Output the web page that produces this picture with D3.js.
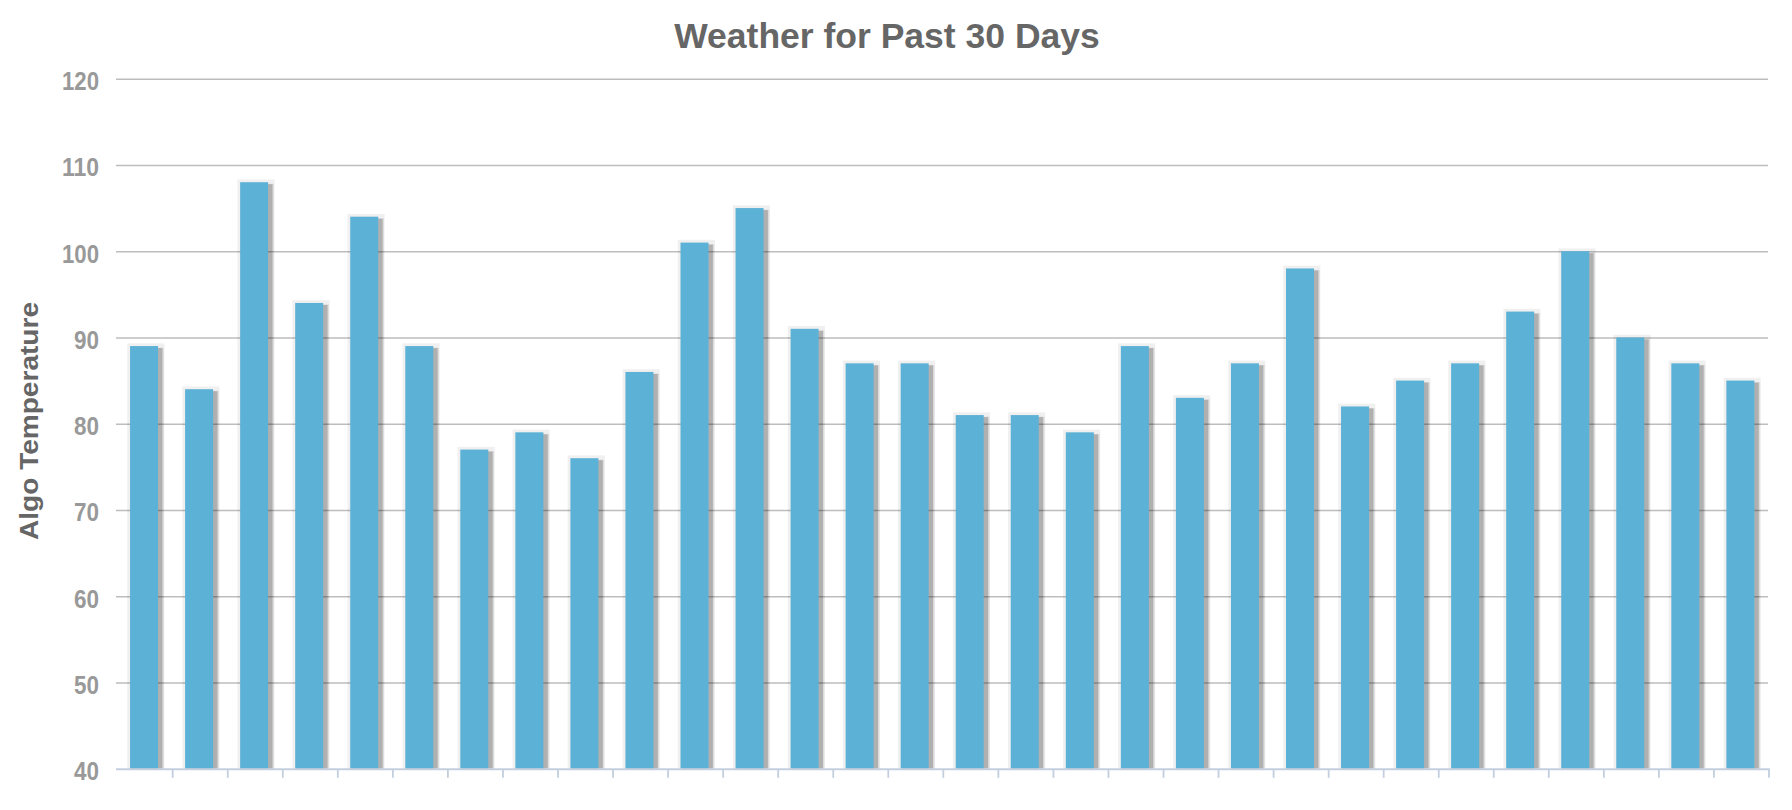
<!DOCTYPE html>
<html>
<head>
<meta charset="utf-8">
<script src="https://cdn.jsdelivr.net/npm/d3@7/dist/d3.min.js"></script>
<style>
  html, body { margin: 0; padding: 0; background: #fff; }
  svg { display: block; }
  text { font-family: "Liberation Sans", Arial, Helvetica, sans-serif; font-weight: bold; }
</style>
</head>
<body>
<svg id="chart" width="1792" height="810"></svg>
<script>
// ---- data ----
const days = d3.range(1, 31).map(String);
const temperatures = [89, 84, 108, 94, 104, 89, 77, 79, 76, 86,
                      101, 105, 91, 87, 87, 81, 81, 79, 89, 83,
                      87, 98, 82, 85, 87, 93, 100, 90, 87, 85];
const yTicks = [40, 50, 60, 70, 80, 90, 100, 110, 120];
const chartTitle = "Weather for Past 30 Days";
const yTitle = "Algo Temperature";

// ---- layout ----
const svg = d3.select("#chart");
const plot = { left: 117.65, right: 1769, top: 78.7, bottom: 768.7 };

const x = d3.scaleBand().domain(days).range([plot.left, plot.right]).padding(0);
const y = d3.scaleLinear().domain([40, 120]).range([plot.bottom, plot.top]);

const step = x.step();
const barW = 28;
const barOffset = 12.4;

// title
svg.append("text")
  .attr("x", 887).attr("y", 47.5)
  .attr("text-anchor", "middle")
  .attr("fill", "#666666")
  .style("font-size", "35.5px")
  .text(chartTitle);

// y axis title
svg.append("text")
  .attr("transform", "translate(38,421) rotate(-90)")
  .attr("text-anchor", "middle")
  .attr("fill", "#666666")
  .style("font-size", "26px")
  .attr("textLength", 238)
  .attr("lengthAdjust", "spacingAndGlyphs")
  .text(yTitle);

// gridlines
const yAxis = d3.axisLeft(y).tickValues(yTicks.filter(v => v > 40))
  .tickSize(-(1768 - 116)).tickFormat("");
const gGrid = svg.append("g").attr("transform", "translate(116,0)").call(yAxis);
gGrid.select(".domain").remove();
gGrid.selectAll(".tick line").attr("stroke", "#bdbdbd").attr("stroke-width", 1.5);

// tick labels
const gLab = svg.append("g").attr("transform", "translate(99,0)")
  .call(d3.axisLeft(y).tickValues(yTicks).tickSize(0).tickPadding(0));
gLab.select(".domain").remove();
gLab.selectAll(".tick text")
  .attr("fill", "#999999")
  .attr("dy", null).attr("y", 11)
  .style("font-size", "25.5px")
  .style("font-family", "'Liberation Sans', Arial, sans-serif")
  .style("font-weight", "bold")
  .attr("textLength", 37)
  .attr("lengthAdjust", "spacingAndGlyphs")
  .each(function(d) { if (String(d).length === 2) d3.select(this).attr("textLength", 25); });

// bars with shadows
const bars = svg.append("g");
const gBar = bars.selectAll("g.bar").data(temperatures).join("g").attr("class", "bar");
const bx = (d, i) => x(days[i]) + barOffset;
// outer glow
gBar.append("rect")
  .attr("x", (d, i) => bx(d, i) - 2.8)
  .attr("y", d => y(d) - 2.8)
  .attr("width", barW + 9.2)
  .attr("height", d => plot.bottom - y(d) + 2.8)
  .attr("fill", "rgba(0,0,0,0.06)");
// mid shadow
gBar.append("rect")
  .attr("x", (d, i) => bx(d, i) + 1)
  .attr("y", d => y(d) + 1.5)
  .attr("width", barW + 4.8)
  .attr("height", d => plot.bottom - y(d) - 1.5)
  .attr("fill", "rgba(0,0,0,0.08)");
// dark shadow
gBar.append("rect")
  .attr("x", (d, i) => bx(d, i) + 1)
  .attr("y", d => y(d) + 2)
  .attr("width", barW + 3.4)
  .attr("height", d => plot.bottom - y(d) - 2)
  .attr("fill", "rgba(0,0,0,0.2)");
// bar
gBar.append("rect")
  .attr("x", (d, i) => bx(d, i))
  .attr("y", d => y(d))
  .attr("width", barW)
  .attr("height", d => plot.bottom - y(d))
  .attr("fill", "#5cb1d6");

// x axis
const xAxis = d3.axisBottom(x).tickSize(0).tickFormat("");
const gX = svg.append("g").attr("transform", `translate(0,${plot.bottom + 0.6})`).call(xAxis);
gX.select(".domain").remove();
gX.selectAll(".tick").remove();
gX.append("line")
  .attr("x1", 116).attr("x2", plot.right + 0.8)
  .attr("y1", 0).attr("y2", 0)
  .attr("stroke", "#c3cfde").attr("stroke-width", 2);
gX.selectAll("line.tk").data(days).join("line").attr("class", "tk")
  .attr("x1", d => x(d) + step).attr("x2", d => x(d) + step)
  .attr("y1", 0).attr("y2", 8.5)
  .attr("stroke", "#c3cfde").attr("stroke-width", 1.8);
</script>
</body>
</html>
